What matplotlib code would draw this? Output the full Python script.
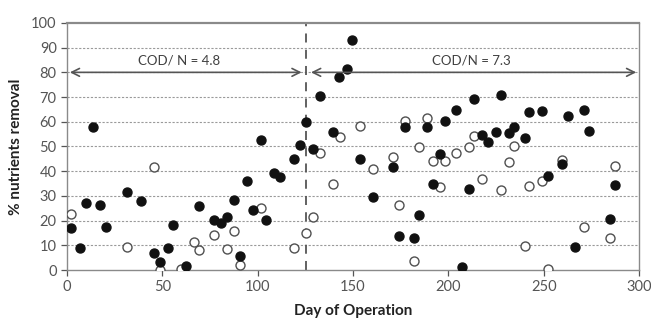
import matplotlib
matplotlib.use("Agg")
import matplotlib.pyplot as plt

# Filled circles series
filled_day = [2.3, 6.6, 10.1, 13.8, 17.1, 20.6, 31.6, 38.8, 45.6, 48.6, 52.8, 55.4, 62.4, 69.4,
              76.9, 80.6, 84.1, 87.6, 90.7, 94.6, 97.7, 101.7, 104.5, 108.6, 111.9, 118.9, 122.0,
              125.5, 128.9, 132.6, 139.4, 142.8, 146.6, 149.7, 153.4, 160.4, 170.7, 174.2, 177.5,
              181.9, 184.5, 188.7, 191.7, 195.7, 198.4, 203.8, 207.4, 211.0, 213.4, 217.8, 220.7,
              224.9, 227.4, 231.7, 234.5, 240.0, 242.4, 248.9, 252.5, 259.5, 262.9, 266.5, 270.9,
              273.7, 284.9, 287.5]
filled_val = [17.0, 8.9, 27.2, 57.7, 26.4, 17.3, 31.4, 27.8, 6.8, 3.2, 8.8, 18.4, 1.6, 26.1,
              20.1, 19.2, 21.6, 28.2, 5.8, 35.9, 24.2, 52.6, 20.1, 39.1, 37.7, 45.1, 50.4,
              59.9, 48.8, 70.4, 55.8, 78.1, 81.4, 93.2, 45.1, 29.7, 41.5, 13.9, 58.0,
              13.0, 22.3, 57.7, 34.7, 46.9, 60.3, 64.7, 1.2, 32.8, 69.1, 54.7, 51.8,
              55.8, 70.9, 55.4, 57.8, 53.4, 64.1, 64.5, 38.2, 42.8, 62.2, 9.3, 64.9,
              56.2, 20.7, 34.3]

# Open circles series
open_day = [2.3, 31.6, 45.6, 48.6, 59.6, 66.6, 69.4, 76.9, 83.9, 87.6, 90.7, 101.7, 118.9,
            125.5, 128.9, 132.6, 139.4, 142.9, 153.4, 160.4, 170.7, 174.2, 177.5, 181.9, 184.5,
            188.7, 191.7, 195.7, 198.4, 203.8, 211.0, 213.4, 217.8, 227.4, 231.7, 234.5, 240.0,
            242.4, 248.9, 252.5, 259.5, 270.9, 284.9, 287.5]
open_val = [22.8, 9.5, 41.8, 0.0, 0.3, 11.2, 8.2, 14.3, 8.4, 15.7, 2.2, 25.1, 8.9,
            14.8, 21.5, 47.3, 34.7, 53.8, 58.1, 40.9, 45.9, 26.2, 60.5, 3.5, 49.6,
            61.4, 44.2, 33.4, 44.1, 47.4, 49.9, 54.2, 36.9, 32.3, 43.6, 50.0, 9.9,
            33.9, 35.9, 0.5, 44.6, 17.6, 13.0, 41.9]

x_ticks = [0, 50, 100, 150, 200, 250, 300]
y_ticks = [0, 10, 20, 30, 40, 50, 60, 70, 80, 90, 100]
switch_day = 125.5
arrow_y = 80
label_left = "COD/ N = 4.8"
label_right = "COD/N = 7.3"

plt.rcParams['font.family'] = ['Lato', 'DejaVu Sans']

fig = plt.figure(figsize=(6.51, 3.23), dpi=100)
ax = fig.add_axes([0.103, 0.164, 0.8786, 0.765])

for yv in y_ticks[1:-1]:
    ax.axhline(yv, color="#9a9a9a", lw=0.8, ls=(0, (2, 1.5)), zorder=0)

ax.scatter(open_day, open_val, s=42, facecolors="white", edgecolors="#505050", linewidths=1.0, zorder=3)
ax.scatter(filled_day, filled_val, s=42, color="#111111", zorder=4)

ax.axvline(switch_day, color="#555555", lw=1.3, ls=(0, (5, 4)), zorder=2)

arrowprops = dict(arrowstyle="<->", color="#555555", lw=1.2, mutation_scale=14)
ax.annotate("", xy=(0, arrow_y), xytext=(124.5, arrow_y), arrowprops=arrowprops, zorder=5)
ax.annotate("", xy=(126.5, arrow_y), xytext=(300, arrow_y), arrowprops=arrowprops, zorder=5)
ax.text(59, 84.8, label_left, ha="center", va="center", fontsize=9.5, color="#404040")
ax.text(212, 84.8, label_right, ha="center", va="center", fontsize=9.5, color="#404040")

ax.set_xlim(0, 300)
ax.set_ylim(0, 100)
ax.set_xticks(x_ticks)
ax.set_yticks(y_ticks)
ax.tick_params(axis="both", labelsize=10.5, colors="#555555", length=4, width=0.9, direction="out")
for lab in ax.get_xticklabels() + ax.get_yticklabels():
    lab.set_color("#555555")
for sp in ax.spines.values():
    sp.set_color("#8a8a8a")
    sp.set_linewidth(1.0)
ax.spines['top'].set_linewidth(1.6)

ax.set_xlabel("Day of Operation", fontsize=11, fontweight="bold", color="#222222", labelpad=7)
ax.set_ylabel("% nutrients removal", fontsize=11, fontweight="bold", color="#222222", labelpad=6)

fig.savefig("out.png", dpi=100)
